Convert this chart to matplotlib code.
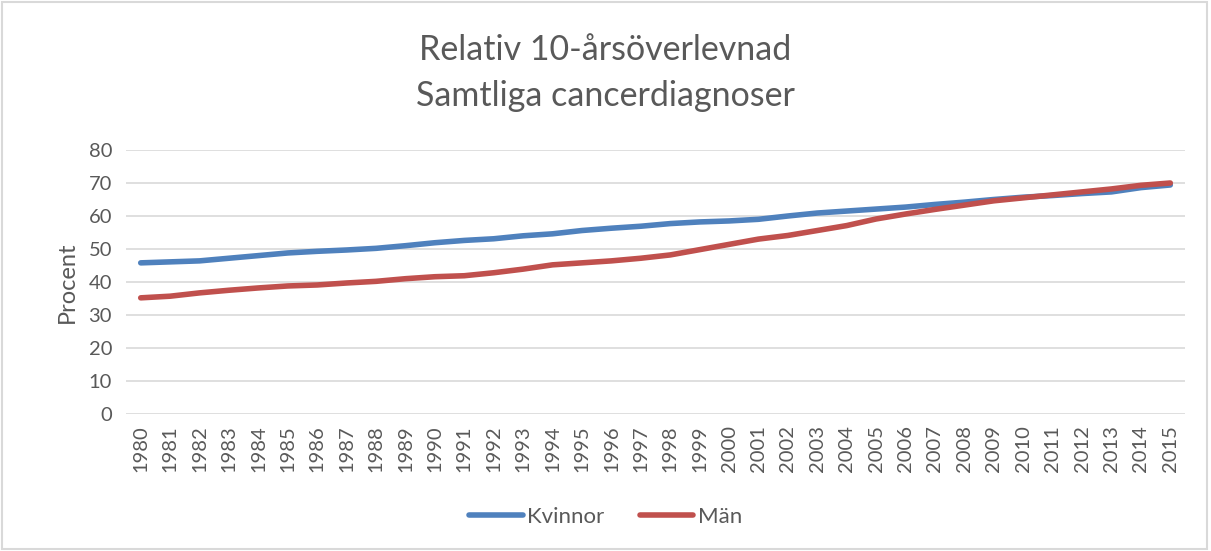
import matplotlib.pyplot as plt
import numpy as np

years = list(range(1980, 2016))
kvinnor = [45.8, 46.1, 46.4, 47.2, 48.0, 48.8, 49.3, 49.7, 50.2, 51.0,
           51.9, 52.6, 53.1, 54.0, 54.6, 55.6, 56.3, 56.9, 57.7, 58.2,
           58.5, 59.0, 60.0, 60.9, 61.5, 62.1, 62.7, 63.5, 64.2, 65.0,
           65.7, 66.2, 66.8, 67.3, 68.6, 69.4]
man = [35.2, 35.7, 36.7, 37.5, 38.2, 38.8, 39.1, 39.7, 40.2, 41.0,
       41.6, 41.9, 42.8, 43.9, 45.2, 45.8, 46.4, 47.2, 48.2, 49.8,
       51.4, 53.0, 54.1, 55.6, 57.1, 59.1, 60.6, 62.0, 63.3, 64.6,
       65.5, 66.4, 67.3, 68.2, 69.3, 70.0]

plt.rcParams['font.family'] = ['Lato', 'DejaVu Sans']
txt = '#595959'

fig = plt.figure(figsize=(12.11, 5.51), dpi=100)
ax = fig.add_axes([126/1211, 1-414/551, 1059/1211, 264/551])

x = np.arange(len(years))
ax.plot(x, kvinnor, color='#4f81bd', lw=4, solid_capstyle='round', label='Kvinnor')
ax.plot(x, man, color='#c0504d', lw=4, solid_capstyle='round', label='Män')

ax.set_xlim(-0.5, len(years) - 0.5)
ax.set_ylim(0, 80)
ax.set_yticks(range(0, 81, 10))
ax.set_xticks(x)
ax.set_xticklabels([str(y) for y in years], rotation=90)
ax.tick_params(axis='both', length=0, labelsize=14.5, colors=txt)
ax.tick_params(axis='y', pad=10)
ax.tick_params(axis='x', pad=8)
ax.grid(axis='y', color='#d9d9d9', lw=1.2)
ax.set_axisbelow(True)
for s in ax.spines.values():
    s.set_visible(False)
ax.set_ylabel('Procent', fontsize=17, color=txt, labelpad=8)

fig.text(0.5, 1-50/551, 'Relativ 10-årsöverlevnad', ha='center', va='center', fontsize=24.5, color=txt)
fig.text(0.5, 1-96/551, 'Samtliga cancerdiagnoser', ha='center', va='center', fontsize=24.5, color=txt)

fig.legend(loc='center', bbox_to_anchor=(0.5, 1-517/551), ncol=2, frameon=False,
           fontsize=16, labelcolor=txt, handlelength=2.4, columnspacing=1.6, handletextpad=0.2)

fig.patches.append(plt.Rectangle((0.002, 0.003), 0.995, 0.993, transform=fig.transFigure,
                                 fill=False, edgecolor='#d9d9d9', lw=1.5))

fig.savefig('out.png', dpi=100, facecolor='white')
